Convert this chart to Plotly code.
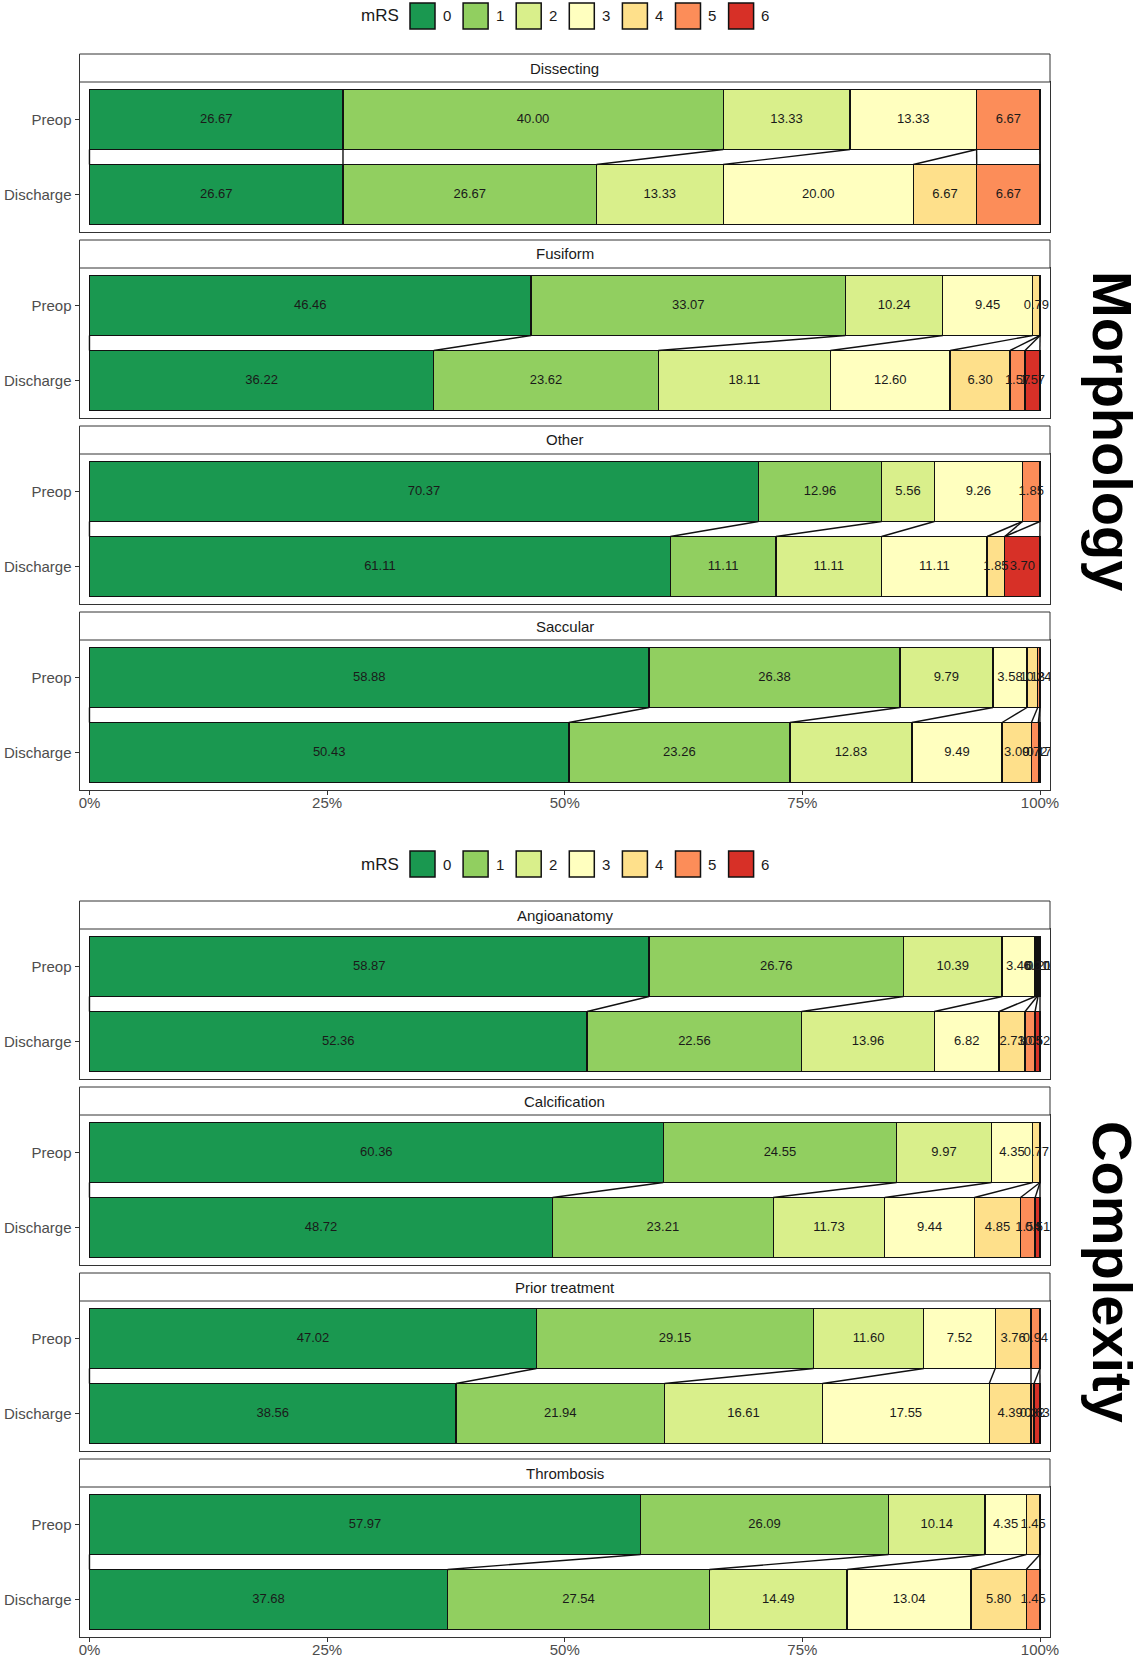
import plotly.graph_objects as go

W, H = 1139, 1660

# mRS levels and their fill colours
levels = ["0", "1", "2", "3", "4", "5", "6"]
colors = ["#1a9850", "#91cf60", "#d9ef8b", "#ffffbf", "#fee08b", "#fc8d59", "#d73027"]
stages = ["Preop", "Discharge"]
pct_ticks = [0, 25, 50, 75, 100]
pct_labels = ["0%", "25%", "50%", "75%", "100%"]

morphology_groups = ["Dissecting", "Fusiform", "Other", "Saccular"]
complexity_groups = ["Angioanatomy", "Calcification", "Prior treatment", "Thrombosis"]

# Percentage of patients at each mRS level (0..6)
dissecting_preop = [26.67, 40.00, 13.33, 13.33, 0, 6.67, 0]
dissecting_discharge = [26.67, 26.67, 13.33, 20.00, 6.67, 6.67, 0]
fusiform_preop = [46.46, 33.07, 10.24, 9.45, 0.79, 0, 0]
fusiform_discharge = [36.22, 23.62, 18.11, 12.60, 6.30, 1.57, 1.57]
other_preop = [70.37, 12.96, 5.56, 9.26, 0, 1.85, 0]
other_discharge = [61.11, 11.11, 11.11, 11.11, 1.85, 0, 3.70]
saccular_preop = [58.88, 26.38, 9.79, 3.58, 1.13, 0.24, 0]
saccular_discharge = [50.43, 23.26, 12.83, 9.49, 3.09, 0.72, 0.17]

angio_preop = [58.87, 26.76, 10.39, 3.46, 0.21, 0.10, 0.21]
angio_discharge = [52.36, 22.56, 13.96, 6.82, 2.73, 1.05, 0.52]
calc_preop = [60.36, 24.55, 9.97, 4.35, 0.77, 0, 0]
calc_discharge = [48.72, 23.21, 11.73, 9.44, 4.85, 1.54, 0.51]
prior_preop = [47.02, 29.15, 11.60, 7.52, 3.76, 0.94, 0]
prior_discharge = [38.56, 21.94, 16.61, 17.55, 4.39, 0.32, 0.63]
thromb_preop = [57.97, 26.09, 10.14, 4.35, 1.45, 0, 0]
thromb_discharge = [37.68, 27.54, 14.49, 13.04, 5.80, 1.45, 0]

morphology_data = [
    (dissecting_preop, dissecting_discharge),
    (fusiform_preop, fusiform_discharge),
    (other_preop, other_discharge),
    (saccular_preop, saccular_discharge),
]
complexity_data = [
    (angio_preop, angio_discharge),
    (calc_preop, calc_discharge),
    (prior_preop, prior_discharge),
    (thromb_preop, thromb_discharge),
]

# ---- page geometry (pixels) ----
FONT = "Liberation Sans, Arial, sans-serif"
X0, X1 = 79.5, 1050.0          # panel left / right edge
STRIP_H, PANEL_H = 28.0, 150.0
PERIOD = 186.0
BAR_W = 0.8
# (title, facets, data, first strip top, legend centre, title centre offset)
blocks = [
    ("Morphology", morphology_groups, morphology_data, 54.0, 16.0, 9.0),
    ("Complexity", complexity_groups, complexity_data, 901.0, 864.0, 3.0),
]


def fx(px):
    return px / W


def fy(py):
    return 1 - py / H


def cumulative(vals):
    out = [0.0]
    for v in vals:
        out.append(out[-1] + v)
    return out


fig = go.Figure()
layout_axes = {}
shapes = []
annotations = []

n = 0
for block_title, groups, data, first_top, legend_y, title_dy in blocks:
    for k, (name, (pre, dis)) in enumerate(zip(groups, data)):
        n += 1
        xr = "x" if n == 1 else f"x{n}"
        yr = "y" if n == 1 else f"y{n}"
        top = first_top + k * PERIOD
        ptop = top + STRIP_H
        pbot = ptop + PANEL_H
        last = k == len(groups) - 1

        layout_axes["xaxis" if n == 1 else f"xaxis{n}"] = dict(
            domain=[fx(X0), fx(X1)], range=[-1.05, 101.05], anchor=yr,
            tickvals=pct_ticks, ticktext=pct_labels,
            showticklabels=last, ticks="outside" if last else "",
            ticklen=4, tickwidth=1, tickcolor="#333333", ticklabelstandoff=-5,
            tickfont=dict(size=15, color="#4d4d4d", family=FONT),
            showline=True, mirror=True, linecolor="#333333", linewidth=1,
            showgrid=False, zeroline=False, fixedrange=True, automargin=False,
        )
        layout_axes["yaxis" if n == 1 else f"yaxis{n}"] = dict(
            domain=[fy(pbot), fy(ptop)], range=[1.5, -0.5], anchor=xr,
            tickvals=[0, 1], ticktext=stages, ticks="outside",
            ticklen=4, tickwidth=1, tickcolor="#333333",
            tickfont=dict(size=15, color="#4d4d4d", family=FONT),
            showline=True, mirror=True, linecolor="#333333", linewidth=1,
            showgrid=False, zeroline=False, fixedrange=True, automargin=False,
        )

        # stacked bars for each mRS level
        for j, lev in enumerate(levels):
            fig.add_trace(go.Bar(
                x=[pre[j], dis[j]], y=[0, 1], orientation="h", width=BAR_W,
                marker=dict(color=colors[j], line=dict(color="#111111", width=1.4)),
                name=lev, xaxis=xr, yaxis=yr, showlegend=False, hoverinfo="skip",
            ))

        # flow lines joining matching cumulative boundaries
        cp, cd = cumulative(pre), cumulative(dis)
        lx, ly = [], []
        for a, b in zip(cp, cd):
            lx += [a, b, None]
            ly += [BAR_W / 2, 1 - BAR_W / 2, None]
        fig.add_trace(go.Scatter(
            x=lx, y=ly, mode="lines", line=dict(color="#111111", width=1.4),
            xaxis=xr, yaxis=yr, showlegend=False, hoverinfo="skip",
        ))

        # value labels centred in each segment
        tx, ty, tt = [], [], []
        for row, vals in enumerate((pre, dis)):
            c = cumulative(vals)
            for j, v in enumerate(vals):
                if v > 0:
                    tx.append(c[j] + v / 2)
                    ty.append(row)
                    tt.append(f"{v:.2f}")
        fig.add_trace(go.Scatter(
            x=tx, y=ty, text=tt, mode="text", textposition="middle center",
            textfont=dict(size=13, color="#1a1a1a", family=FONT),
            xaxis=xr, yaxis=yr, showlegend=False, hoverinfo="skip", cliponaxis=True,
        ))

        # facet strip
        shapes.append(dict(
            type="rect", xref="paper", yref="paper",
            x0=fx(X0), x1=fx(X1), y0=fy(ptop), y1=fy(top),
            fillcolor="white", line=dict(color="#333333", width=1),
        ))
        annotations.append(dict(
            x=fx((X0 + X1) / 2), y=fy(top + STRIP_H / 2), xref="paper", yref="paper",
            text=name, showarrow=False, xanchor="center", yanchor="middle",
            font=dict(size=15, color="#1a1a1a", family=FONT),
        ))

    # legend row for the block
    annotations.append(dict(
        x=fx(401), y=fy(legend_y), xref="paper", yref="paper", text="mRS",
        showarrow=False, xanchor="right", yanchor="middle",
        font=dict(size=17, color="#1a1a1a", family=FONT),
    ))
    for j, lev in enumerate(levels):
        kx = 410 + 53.1 * j
        shapes.append(dict(
            type="rect", xref="paper", yref="paper",
            x0=fx(kx), x1=fx(kx + 25), y0=fy(legend_y + 13), y1=fy(legend_y - 13),
            fillcolor=colors[j], line=dict(color="#111111", width=1.5),
        ))
        annotations.append(dict(
            x=fx(kx + 36.5), y=fy(legend_y), xref="paper", yref="paper", text=lev,
            showarrow=False, xanchor="center", yanchor="middle",
            font=dict(size=15, color="#1a1a1a", family=FONT),
        ))

    # block title down the right side
    block_mid = first_top + (3 * PERIOD + STRIP_H + PANEL_H) / 2
    annotations.append(dict(
        x=fx(1113), y=fy(block_mid + title_dy), xref="paper", yref="paper", text=block_title,
        showarrow=False, xanchor="center", yanchor="middle", textangle=90,
        font=dict(size=56, color="#000000", family=FONT, weight="bold"),
    ))

fig.update_layout(
    width=W, height=H, margin=dict(l=0, r=0, t=0, b=0, pad=0, autoexpand=False),
    paper_bgcolor="white", plot_bgcolor="white",
    barmode="stack", bargap=0.2, showlegend=False,
    font=dict(family=FONT),
    shapes=shapes, annotations=annotations,
    **layout_axes,
)

fig.write_html("out.html")
